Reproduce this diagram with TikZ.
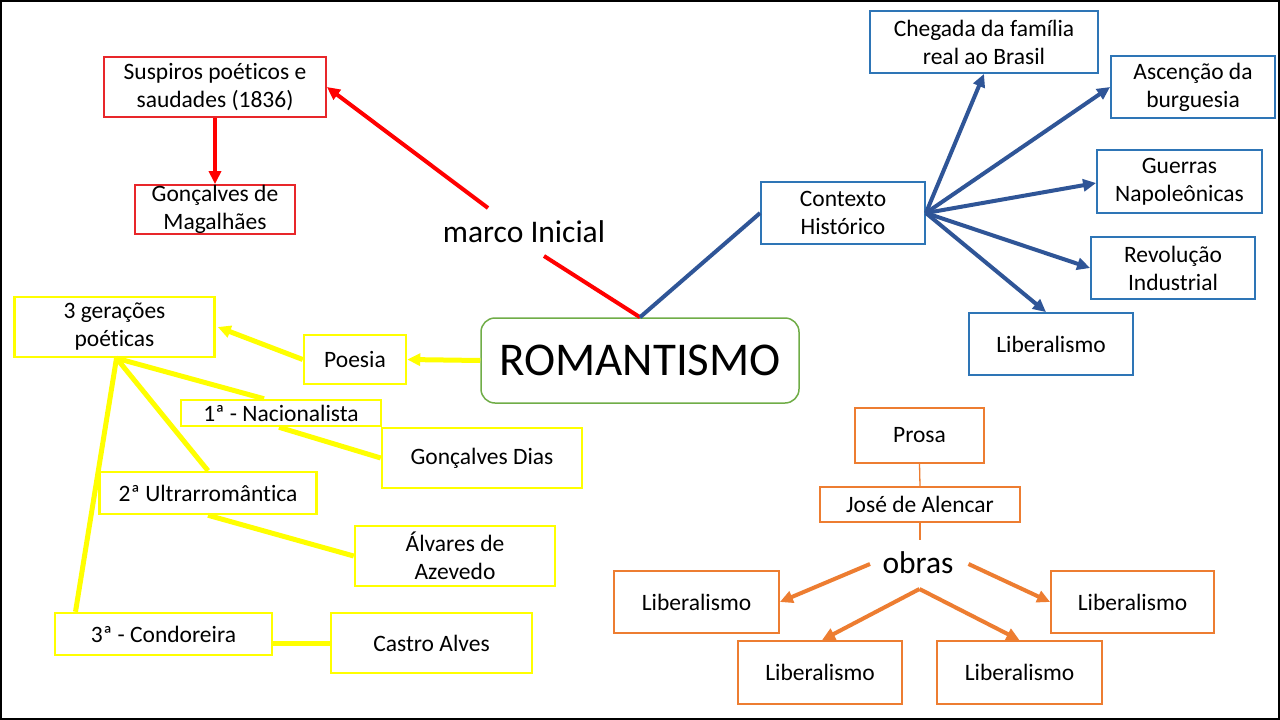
\documentclass[tikz,border=0pt]{standalone}
\usepackage{fontspec}
\setmainfont[Ligatures={NoCommon}]{Carlito}
\usetikzlibrary{arrows.meta,calc}
\definecolor{cred}{HTML}{FF0000}
\definecolor{credbox}{HTML}{E8262A}
\definecolor{cblue}{HTML}{2F5597}
\definecolor{cbluebox}{HTML}{2E75B6}
\definecolor{cgreen}{HTML}{70AD47}
\definecolor{corange}{HTML}{ED7D31}
\definecolor{cyellow}{HTML}{FFFF00}
\begin{document}
\begin{tikzpicture}[x=1pt,y=-1pt,
  txt/.style={font=\fontsize{23.5}{28}\selectfont, align=center, text=black},
  bx/.style={draw, txt, inner sep=0pt, line width=1.8pt},
  sz/.style 2 args={minimum width=#1pt, minimum height=#2pt},
  redbox/.style={bx, draw=credbox},
  bluebox/.style={bx, draw=cbluebox},
  yelbox/.style={bx, draw=cyellow, line width=2.5pt},
  orbox/.style={bx, draw=corange},
  tip/.style={-{Triangle[length=13pt,width=12pt]}},
  rline/.style={draw=cred, line width=4pt},
  rarrow/.style={rline, tip},
  bline/.style={draw=cblue, line width=4pt},
  barrow/.style={bline, tip},
  yline/.style={draw=cyellow, line width=5pt},
  yarrow/.style={yline, tip},
  oline/.style={draw=corange, line width=4pt},
  oarrow/.style={oline, tip},
  othin/.style={draw=corange, line width=1.3pt},
  bigtxt/.style={font=\fontsize{31.5}{38}\selectfont, text=black, inner sep=0pt}
]
\useasboundingbox (0,0) rectangle (1280,720);
\fill[white] (0,0) rectangle (1280,720);
\draw[black, line width=2pt] (1,1) rectangle (1279,719);

% central node
\node[bx, draw=cgreen, line width=1.5pt, rounded corners=14pt, sz={318}{85},
      font=\fontsize{47}{56}\selectfont] (rom) at (640,360.5) {ROMANTISMO};

% red branch
\node[redbox, sz={222}{60}] (sus) at (215,87) {Suspiros poéticos e\\saudades (1836)};
\node[redbox, sz={160}{49}, label={[txt]center:Gonçalves de\\Magalhães}] (gmag) at (215,209.5) {};
\node[bigtxt] (marco) at (524,232) {marco Inicial};
\coordinate (mA) at (488,208);
\coordinate (mB) at (544,256);
\draw[rarrow] (mA) -- (sus.east);
\draw[rline] (mB) -- (rom.north);
\draw[rarrow] (sus.south) -- (gmag.north);

% blue branch
\node[bluebox, sz={164}{62}] (ctx) at (843,213) {Contexto\\Histórico};
\node[bluebox, sz={228}{62}] (cheg) at (984,42) {Chegada da família\\real ao Brasil};
\node[bluebox, sz={164}{62}] (asc) at (1193,87) {Ascenção da\\burguesia};
\node[bluebox, sz={165}{63}] (gue) at (1179.5,181.5) {Guerras\\Napoleônicas};
\node[bluebox, sz={164}{62}] (rev) at (1173,268) {Revolução\\Industrial};
\node[bluebox, sz={164}{62}] (lib) at (1051,344) {Liberalismo};
\draw[bline] (rom.north) -- (ctx.west);
\draw[barrow] (ctx.east) -- (cheg.south);
\draw[barrow] (ctx.east) -- (asc.west);
\draw[barrow] (ctx.east) -- ($(gue.west)+(0,1.5)$);
\draw[barrow] (ctx.east) -- (rev.west);
\draw[barrow] (ctx.east) -- ($(lib.north)+(-5,0)$);

% yellow branch
\node[yelbox, sz={200}{60}] (ger) at (114.5,327) {3 gerações\\poéticas};
\node[yelbox, sz={102}{49}] (poe) at (355,359.5) {Poesia};
\node[yelbox, sz={200}{26}] (nac) at (281,413) {1ª - Nacionalista};
\node[yelbox, sz={200}{60}] (gdias) at (482,458) {Gonçalves Dias};
\node[yelbox, sz={217}{42}] (ultra) at (208,493) {2ª Ultrarromântica};
\node[yelbox, sz={200}{60}] (alv) at (455,556) {Álvares de\\Azevedo};
\node[yelbox, sz={217}{42}] (cond) at (163.5,634) {3ª - Condoreira};
\node[yelbox, sz={201}{60}] (castro) at (431.5,643) {Castro Alves};
\draw[yarrow] (rom.west) -- (poe.east);
\draw[yarrow] (poe.west) -- ($(ger.east)+(2,0)$);
\draw[yline] ($(ger.south)+(2,0)$) -- ($(nac.north)+(-17,0)$);
\draw[yline] ($(ger.south)+(2,0)$) -- (ultra.north);
\draw[yline] ($(ger.south)+(2,0)$) -- ($(cond.north)+(-88,0)$);
\draw[yline] ($(nac.south)+(-2,0)$) -- (gdias.west);
\draw[yline] (ultra.south) -- (alv.west);
\draw[yline] (cond.east |- castro.west) -- (castro.west);

% orange branch
\node[orbox, sz={129}{55}] (prosa) at (919.5,435.5) {Prosa};
\node[orbox, sz={200}{35}] (jose) at (920,504.5) {José de Alencar};
\node[bigtxt] (obras) at (918,563) {obras};
\node[orbox, sz={165}{62}] (lL) at (696.5,602) {Liberalismo};
\node[orbox, sz={163}{62}] (lR) at (1132.5,602) {Liberalismo};
\node[orbox, sz={164}{63}] (lBL) at (820,672.5) {Liberalismo};
\node[orbox, sz={165}{63}] (lBR) at (1019.5,672.5) {Liberalismo};
\coordinate (jb) at (920,540);
\coordinate (oL) at (870,564);
\coordinate (oR) at (968.5,564);
\coordinate (oC) at (919.5,589);
\draw[othin] (prosa.south) -- (jose.north);
\draw[othin] (jose.south) -- (jb);
\draw[oarrow] (oL) -- (lL.east);
\draw[oarrow] (oR) -- (lR.west);
\draw[oarrow] (oC) -- ($(lBL.north)+(2,0)$);
\draw[oarrow] (oC) -- (lBR.north);
\end{tikzpicture}
\end{document}
